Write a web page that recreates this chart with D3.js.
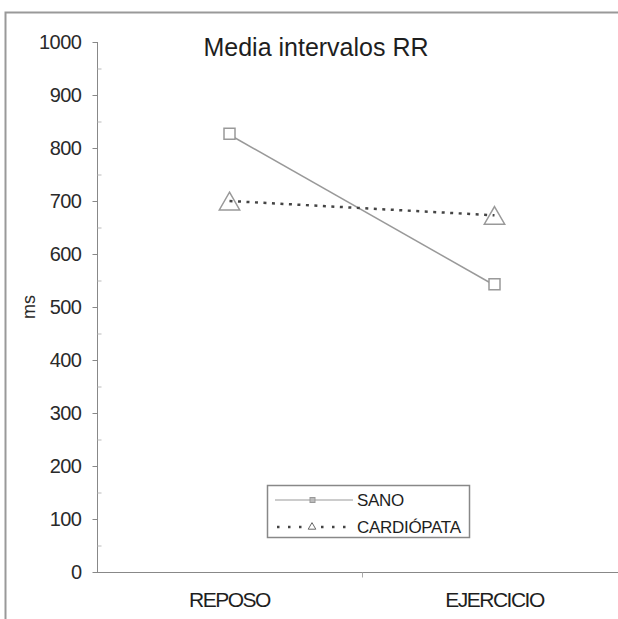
<!DOCTYPE html>
<html>
<head>
<meta charset="utf-8">
<script src="https://cdn.jsdelivr.net/npm/d3@7"></script>
<style>
  body { margin: 0; background: #fff; }
  text { font-family: Arial, "Liberation Sans", sans-serif; }
</style>
</head>
<body>
<svg id="chart" width="618" height="619"></svg>
<script>
// mean RR intervals, rest vs exercise
var categories = ['REPOSO', 'EJERCICIO'];
var sano = [825, 541];
var cardiopata = [700, 673];
var yTicks = [0, 100, 200, 300, 400, 500, 600, 700, 800, 900, 1000];
var seriesNames = ['SANO', 'CARDIÓPATA'];

var svg = d3.select('#chart');

// frame round the picture
svg.append('path')
    .attr('d', 'M5.5,619 V12.5 H618')
    .attr('fill', 'none')
    .attr('stroke', '#999')
    .attr('stroke-width', 2);

var x = d3.scaleBand().domain(categories).range([97, 627]);
var y = d3.scaleLinear().domain([0, 1000]).range([572, 42]);

// y axis
var yAxis = svg.append('g').attr('transform', 'translate(97.5,0)');
yAxis.append('line')
    .attr('y1', y(1000)).attr('y2', y(0))
    .attr('stroke', '#888');
yAxis.selectAll('line.major')
    .data(yTicks).enter().append('line')
    .attr('class', 'major')
    .attr('x1', -5).attr('x2', 0)
    .attr('y1', function(d) { return y(d) + 0.5; })
    .attr('y2', function(d) { return y(d) + 0.5; })
    .attr('stroke', '#888');
yAxis.selectAll('line.minor')
    .data(yTicks.slice(0, -1)).enter().append('line')
    .attr('class', 'minor')
    .attr('x1', 0).attr('x2', 4)
    .attr('y1', function(d) { return y(d + 50) + 0.5; })
    .attr('y2', function(d) { return y(d + 50) + 0.5; })
    .attr('stroke', '#bbb');
yAxis.selectAll('text')
    .data(yTicks).enter().append('text')
    .attr('x', -16)
    .attr('y', function(d) { return y(d); })
    .attr('dy', '0.36em')
    .attr('text-anchor', 'end')
    .attr('font-size', 20)
    .attr('letter-spacing', -0.5)
    .attr('fill', '#2a2a2a')
    .text(function(d) { return d; });

svg.append('text')
    .attr('transform', 'translate(35,307) rotate(-90)')
    .attr('text-anchor', 'middle')
    .attr('font-size', 18)
    .attr('fill', '#2a2a2a')
    .text('ms');

// x axis
var xAxis = svg.append('g').attr('transform', 'translate(0,572.5)');
xAxis.append('line')
    .attr('x1', 97).attr('x2', 618)
    .attr('stroke', '#888');
xAxis.selectAll('line.tick')
    .data(categories).enter().append('line')
    .attr('class', 'tick')
    .attr('x1', function(d) { return x(d) + x.bandwidth() + 0.5; })
    .attr('x2', function(d) { return x(d) + x.bandwidth() + 0.5; })
    .attr('y1', 0).attr('y2', 5)
    .attr('stroke', '#aaa');
xAxis.selectAll('text')
    .data(categories).enter().append('text')
    .attr('x', function(d) { return x(d) + x.bandwidth() / 2; })
    .attr('y', 34)
    .attr('text-anchor', 'middle')
    .attr('font-size', 21)
    .attr('letter-spacing', -1.5)
    .attr('fill', '#1e1e1e')
    .text(function(d) { return d; });

// title
svg.append('text')
    .attr('x', 316).attr('y', 56)
    .attr('text-anchor', 'middle')
    .attr('font-size', 25)
    .attr('fill', '#1e1e1e')
    .text('Media intervalos RR');

var cx = function(d, i) { return x(categories[i]) + x.bandwidth() / 2; };
var line = d3.line()
    .x(function(d, i) { return cx(d, i); })
    .y(function(d) { return y(d); });

// sano: solid grey line with open squares
svg.append('path')
    .datum(sano)
    .attr('d', line)
    .attr('fill', 'none')
    .attr('stroke', '#999')
    .attr('stroke-width', 1.5);
svg.selectAll('rect.sano')
    .data(sano).enter().append('rect')
    .attr('class', 'sano')
    .attr('x', function(d, i) { return cx(d, i) - 5.5; })
    .attr('y', function(d) { return y(d) - 6.5; })
    .attr('width', 11).attr('height', 11)
    .attr('fill', '#fff')
    .attr('stroke', '#999')
    .attr('stroke-width', 1.5);

// cardiopata: dotted dark line with open triangles
svg.append('path')
    .datum(cardiopata)
    .attr('d', line)
    .attr('fill', 'none')
    .attr('stroke', '#444')
    .attr('stroke-width', 2.5)
    .attr('stroke-dasharray', '3,5.5');
var tri = d3.symbol().type(d3.symbolTriangle).size(180);
svg.selectAll('path.card')
    .data(cardiopata).enter().append('path')
    .attr('class', 'card')
    .attr('d', tri)
    .attr('transform', function(d, i) { return 'translate(' + cx(d, i) + ',' + (y(d) + 3) + ')'; })
    .attr('fill', 'none')
    .attr('stroke', '#999')
    .attr('stroke-width', 1.5);

// legend
var lg = svg.append('g');
lg.append('rect')
    .attr('x', 267.5).attr('y', 485.5)
    .attr('width', 202).attr('height', 52)
    .attr('fill', '#fff')
    .attr('stroke', '#888')
    .attr('stroke-width', 1.5);
var rows = lg.selectAll('g.row')
    .data(seriesNames).enter().append('g')
    .attr('class', 'row')
    .attr('transform', function(d, i) { return 'translate(0,' + (500 + i * 27) + ')'; });
rows.append('line')
    .attr('x1', function(d, i) { return i === 0 ? 275 : 277; })
    .attr('x2', 353)
    .attr('stroke', function(d, i) { return i === 0 ? '#999' : '#444'; })
    .attr('stroke-width', function(d, i) { return i === 0 ? 1.2 : 2.5; })
    .attr('stroke-dasharray', function(d, i) { return i === 0 ? null : '2.5,8.5'; });
rows.filter(function(d, i) { return i === 0; }).append('rect')
    .attr('x', 310).attr('y', -2.5).attr('width', 5).attr('height', 5)
    .attr('fill', '#bbb').attr('stroke', '#999');
rows.filter(function(d, i) { return i === 1; }).append('path')
    .attr('d', d3.symbol().type(d3.symbolTriangle).size(25))
    .attr('transform', 'translate(312,0)')
    .attr('fill', '#fff').attr('stroke', '#666');
rows.append('text')
    .attr('x', 357)
    .attr('dy', '0.36em')
    .attr('font-size', 17)
    .attr('letter-spacing', -0.3)
    .attr('fill', '#1e1e1e')
    .text(function(d) { return d; });
</script>
</body>
</html>
